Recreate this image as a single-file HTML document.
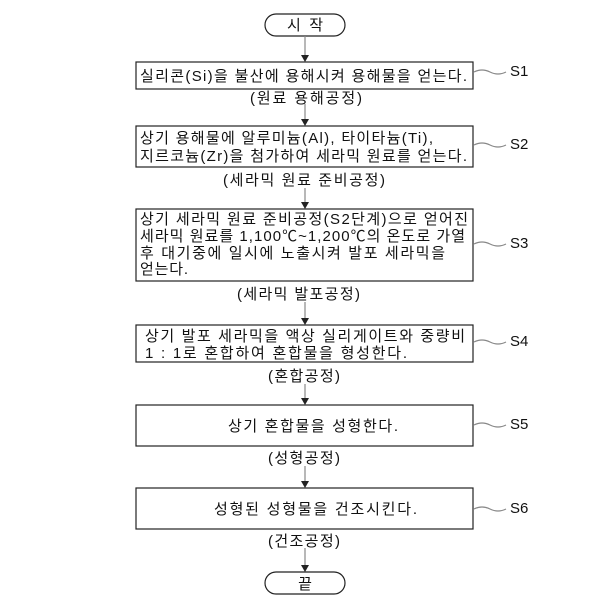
<!DOCTYPE html>
<html><head><meta charset="utf-8"><style>
body{margin:0;background:#fff}
text{font-family:"Liberation Sans","Noto Sans CJK KR",sans-serif;font-size:15px;fill:#111}
</style></head><body>
<svg width="608" height="608" viewBox="0 0 608 608" xmlns="http://www.w3.org/2000/svg">
<g fill="none" stroke="#222" stroke-width="1.2">
<rect x="265" y="14" width="80" height="22" rx="11"/>
<rect x="136" y="62" width="337" height="27"/>
<rect x="136" y="126" width="337" height="41"/>
<rect x="136" y="209" width="337" height="72"/>
<rect x="136" y="325" width="337" height="37"/>
<rect x="136" y="405" width="337" height="41"/>
<rect x="136" y="488" width="337" height="41"/>
<rect x="265" y="572" width="80" height="22" rx="11"/>
<g stroke="#888">
<line x1="305" y1="36" x2="305" y2="56"/>
<line x1="305" y1="104" x2="305" y2="120"/>
<line x1="305" y1="188" x2="305" y2="203"/>
<line x1="305" y1="302" x2="305" y2="319"/>
<line x1="305" y1="384" x2="305" y2="399"/>
<line x1="305" y1="466" x2="305" y2="482"/>
<line x1="305" y1="548" x2="305" y2="566"/>
<path d="M474,72 q8,-4 16,0 t16,0"/>
<path d="M474,145 q8,-4 16,0 t16,0"/>
<path d="M474,244 q8,-4 16,0 t16,0"/>
<path d="M474,342 q8,-4 16,0 t16,0"/>
<path d="M474,425 q8,-4 16,0 t16,0"/>
<path d="M474,509 q8,-4 16,0 t16,0"/>
</g></g>
<g fill="#222">
<polygon points="301,55 309,55 305,62"/>
<polygon points="301,119 309,119 305,126"/>
<polygon points="301,202 309,202 305,209"/>
<polygon points="301,318 309,318 305,325"/>
<polygon points="301,398 309,398 305,405"/>
<polygon points="301,481 309,481 305,488"/>
<polygon points="301,565 309,565 305,572"/>
</g>
<text x="287" y="30" textLength="36" lengthAdjust="spacing">시 작</text>
<text x="140" y="81" textLength="327" lengthAdjust="spacing">실리콘(Si)을 불산에 용해시켜 용해물을 얻는다.</text>
<text x="250" y="103" textLength="112" lengthAdjust="spacing">(원료 용해공정)</text>
<text x="140" y="143" textLength="293" lengthAdjust="spacing">상기 용해물에 알루미늄(Al), 타이타늄(Ti),</text>
<text x="140" y="161" textLength="327" lengthAdjust="spacing">지르코늄(Zr)을 첨가하여 세라믹 원료를 얻는다.</text>
<text x="223" y="185" textLength="162" lengthAdjust="spacing">(세라믹 원료 준비공정)</text>
<text x="140" y="224" textLength="328" lengthAdjust="spacing">상기 세라믹 원료 준비공정(S2단계)으로 얻어진</text>
<text x="140" y="241" textLength="325" lengthAdjust="spacing">세라믹 원료를 1,100℃~1,200℃의 온도로 가열</text>
<text x="140" y="258" textLength="305" lengthAdjust="spacing">후 대기중에 일시에 노출시켜 발포 세라믹을</text>
<text x="140" y="274" textLength="48" lengthAdjust="spacing">얻는다.</text>
<text x="237" y="299" textLength="123" lengthAdjust="spacing">(세라믹 발포공정)</text>
<text x="145" y="341" textLength="320" lengthAdjust="spacing">상기 발포 세라믹을 액상 실리게이트와 중량비</text>
<text x="145" y="358" textLength="262" lengthAdjust="spacing">1 : 1로 혼합하여 혼합물을 형성한다.</text>
<text x="268" y="381" textLength="72" lengthAdjust="spacing">(혼합공정)</text>
<text x="228" y="431" textLength="170" lengthAdjust="spacing">상기 혼합물을 성형한다.</text>
<text x="268" y="463" textLength="72" lengthAdjust="spacing">(성형공정)</text>
<text x="214" y="514" textLength="203" lengthAdjust="spacing">성형된 성형물을 건조시킨다.</text>
<text x="268" y="546" textLength="72" lengthAdjust="spacing">(건조공정)</text>
<text x="305" y="589" text-anchor="middle">끝</text>
<text x="510" y="76">S1</text>
<text x="510" y="149">S2</text>
<text x="510" y="248">S3</text>
<text x="510" y="346">S4</text>
<text x="510" y="429">S5</text>
<text x="510" y="513">S6</text>
</svg>
</body></html>
